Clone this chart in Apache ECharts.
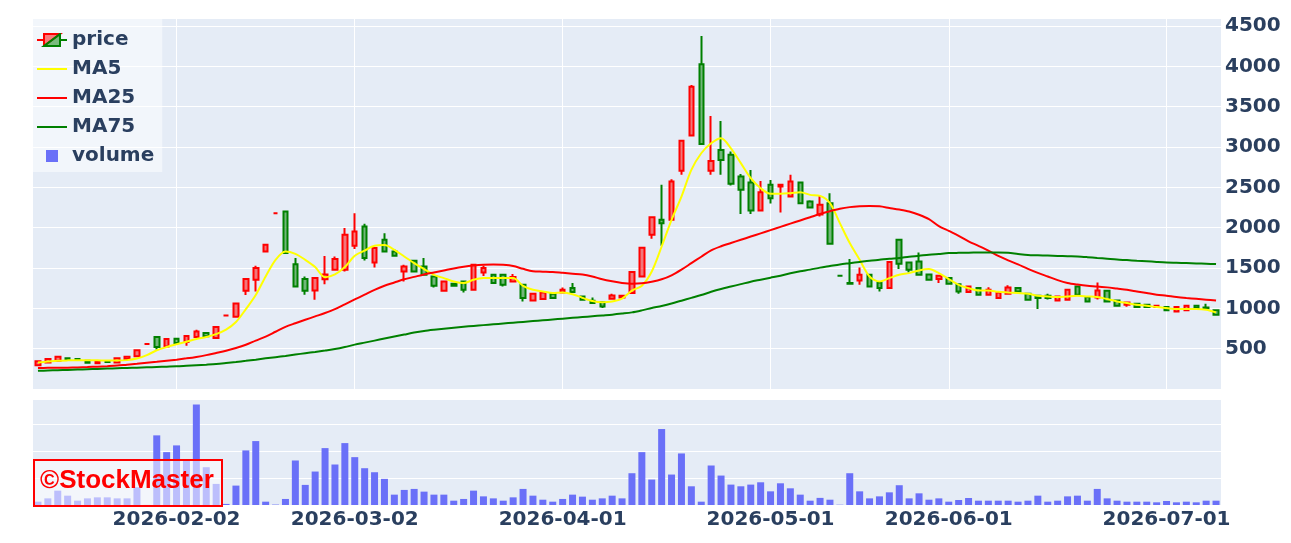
<!DOCTYPE html>
<html>
<head>
<meta charset="utf-8">
<script src="https://cdn.jsdelivr.net/npm/echarts@6/dist/echarts.min.js"></script>
<style>
  html, body { margin: 0; padding: 0; background: #fff; }
  #chart { width: 1291px; height: 543px; }
</style>
</head>
<body>
<div id="chart"></div>
<script>
// trading days (TSE calendar)
var dates = [
  '2026-01-13','2026-01-14','2026-01-15','2026-01-16','2026-01-19','2026-01-20','2026-01-21','2026-01-22','2026-01-23','2026-01-26',
  '2026-01-27','2026-01-28','2026-01-29','2026-01-30','2026-02-02','2026-02-03','2026-02-04','2026-02-05','2026-02-06','2026-02-09',
  '2026-02-10','2026-02-12','2026-02-13','2026-02-16','2026-02-17','2026-02-18','2026-02-19','2026-02-20','2026-02-24','2026-02-25',
  '2026-02-26','2026-02-27','2026-03-02','2026-03-03','2026-03-04','2026-03-05','2026-03-06','2026-03-09','2026-03-10','2026-03-11',
  '2026-03-12','2026-03-13','2026-03-16','2026-03-17','2026-03-18','2026-03-19','2026-03-23','2026-03-24','2026-03-25','2026-03-26',
  '2026-03-27','2026-03-30','2026-03-31','2026-04-01','2026-04-02','2026-04-03','2026-04-06','2026-04-07','2026-04-08','2026-04-09',
  '2026-04-10','2026-04-13','2026-04-14','2026-04-15','2026-04-16','2026-04-17','2026-04-20','2026-04-21','2026-04-22','2026-04-23',
  '2026-04-24','2026-04-27','2026-04-28','2026-04-30','2026-05-01','2026-05-07','2026-05-08','2026-05-11','2026-05-12','2026-05-13',
  '2026-05-14','2026-05-15','2026-05-18','2026-05-19','2026-05-20','2026-05-21','2026-05-22','2026-05-25','2026-05-26','2026-05-27',
  '2026-05-28','2026-05-29','2026-06-01','2026-06-02','2026-06-03','2026-06-04','2026-06-05','2026-06-08','2026-06-09','2026-06-10',
  '2026-06-11','2026-06-12','2026-06-15','2026-06-16','2026-06-17','2026-06-18','2026-06-19','2026-06-22','2026-06-23','2026-06-24',
  '2026-06-25','2026-06-26','2026-06-29','2026-06-30','2026-07-01','2026-07-02','2026-07-03','2026-07-06','2026-07-07','2026-07-08'
];

// dates that get a label / vertical gridline
var tickDates = ['2026-02-02', '2026-03-02', '2026-04-01', '2026-05-01', '2026-06-01', '2026-07-01'];

var open = [
  293, 330, 351, 380, 372, 351, 318, 343, 330, 372, 405, 558, 645, 528, 624, 583, 645, 694, 632, 912,
  896, 1218, 1354, 1705, 2180, 2200, 1546, 1363, 1222, 1360, 1478, 1478, 1776, 2015, 1569, 1850, 1705, 1457, 1590, 1520,
  1395, 1218, 1305, 1333, 1230, 1445, 1416, 1416, 1333, 1292, 1098, 1115, 1181, 1197, 1251, 1148, 1094, 1078, 1119, 1135,
  1190, 1395, 1912, 2097, 2097, 2706, 3142, 4027, 2706, 2964, 2903, 2634, 2560, 2213, 2531, 2510, 2386, 2560, 2324, 2164,
  2304, 1404, 1313, 1346, 1416, 1321, 1251, 1850, 1569, 1582, 1420, 1363, 1375, 1300, 1202, 1251, 1169, 1127, 1181, 1251,
  1181, 1156, 1156, 1098, 1107, 1271, 1140, 1135, 1218, 1098, 1045, 1057, 1045, 1016, 1016, 962, 975, 1033, 1010, 975
];
var close = [
  343, 372, 401, 372, 360, 327, 343, 335, 380, 401, 479, 558, 521, 620, 571, 657, 714, 653, 769, 912,
  1061, 1363, 1499, 1788, 2180, 1685, 1271, 1218, 1375, 1420, 1611, 1912, 1953, 1623, 1747, 1705, 1652, 1520, 1457, 1416,
  1280, 1333, 1280, 1230, 1540, 1499, 1313, 1292, 1388, 1127, 1181, 1197, 1127, 1230, 1202, 1107, 1065, 1024, 1160, 1156,
  1450, 1752, 2130, 2056, 2572, 3078, 3748, 3037, 2828, 2840, 2544, 2470, 2213, 2441, 2366, 2531, 2572, 2304, 2250, 2283,
  1800, 1404, 1305, 1416, 1271, 1251, 1574, 1553, 1478, 1416, 1354, 1404, 1305, 1210, 1271, 1169, 1230, 1197, 1259, 1210,
  1107, 1127, 1127, 1148, 1230, 1169, 1086, 1222, 1086, 1033, 1073, 1016, 1016, 1033, 975, 1016, 1033, 1004, 1000, 921
];
var low = [
  285, 325, 345, 368, 355, 322, 314, 330, 326, 368, 400, 558, 490, 522, 565, 537, 640, 648, 628, 912,
  890, 1165, 1210, 1695, 2180, 1680, 1265, 1169, 1107, 1300, 1470, 1457, 1735, 1594, 1507, 1695, 1640, 1333, 1450, 1405,
  1260, 1210, 1270, 1197, 1225, 1400, 1305, 1270, 1325, 1085, 1090, 1110, 1120, 1190, 1195, 1100, 1060, 1004, 1114, 1130,
  1185, 1390, 1862, 1776, 2090, 2655, 3135, 3030, 2655, 2655, 2523, 2170, 2170, 2205, 2300, 2188, 2380, 2295, 2240, 2138,
  1795, 1404, 1305, 1292, 1265, 1210, 1245, 1487, 1445, 1405, 1348, 1313, 1300, 1181, 1197, 1163, 1164, 1122, 1176, 1205,
  1102, 992, 1110, 1093, 1102, 1163, 1080, 1110, 1080, 1028, 1020, 1010, 1010, 1012, 970, 957, 970, 999, 995, 916
];
var high = [
  350, 378, 405, 384, 376, 355, 346, 347, 384, 405, 484, 558, 650, 626, 630, 662, 735, 700, 775, 912,
  1068, 1370, 1528, 1800, 2180, 2205, 1623, 1395, 1380, 1650, 1643, 1995, 2180, 2048, 1755, 1932, 1730, 1540, 1600, 1623,
  1400, 1340, 1312, 1340, 1545, 1528, 1420, 1430, 1425, 1298, 1186, 1202, 1186, 1260, 1313, 1155, 1135, 1084, 1180, 1162,
  1457, 1760, 2136, 2532, 2600, 3085, 3770, 4376, 3385, 3323, 2945, 2665, 2715, 2580, 2590, 2545, 2655, 2570, 2340, 2395,
  2428, 1404, 1611, 1507, 1420, 1325, 1580, 1855, 1575, 1693, 1425, 1410, 1380, 1305, 1276, 1256, 1262, 1202, 1285, 1256,
  1186, 1160, 1180, 1153, 1236, 1276, 1145, 1321, 1223, 1103, 1078, 1062, 1050, 1038, 1021, 1021, 1038, 1038, 1057, 980
];

var ma5 = [
  330, 340, 350, 355, 358, 357, 355, 352, 352, 358, 378, 420, 480, 520, 555, 585, 620, 645, 680, 735,
  830, 990, 1165, 1395, 1602, 1705, 1676, 1602, 1512, 1385, 1420, 1512, 1652, 1717, 1776, 1784, 1726, 1643, 1561, 1487,
  1416, 1375, 1333, 1313, 1354, 1375, 1375, 1375, 1375, 1280, 1230, 1210, 1190, 1195, 1175, 1130, 1090, 1075, 1085, 1120,
  1220, 1280, 1457, 1767, 2097, 2386, 2717, 2923, 3047, 3109, 2985, 2800, 2614, 2490, 2420, 2420, 2428, 2440, 2407, 2395,
  2304, 2056, 1809, 1602, 1395, 1333, 1375, 1416, 1437, 1470, 1487, 1437, 1363, 1292, 1251, 1222, 1222, 1205, 1197, 1190,
  1181, 1156, 1148, 1140, 1148, 1156, 1148, 1140, 1115, 1086, 1066, 1045, 1033, 1016, 1004, 992, 992, 992, 983, 950
];
var ma25 = [
  261, 262, 263, 265, 268, 272, 277, 283, 290, 302, 313, 325, 337, 350, 364, 380, 398, 420, 447, 475,
  508, 548, 600, 650, 710, 770, 815, 858, 900, 942, 990, 1050, 1110, 1170, 1230, 1280, 1320, 1360, 1390, 1420,
  1445, 1470, 1495, 1515, 1530, 1540, 1545, 1540, 1525, 1490, 1460, 1455, 1450, 1440, 1430, 1420, 1395, 1360, 1335, 1315,
  1305, 1310, 1330, 1360, 1410, 1480, 1560, 1640, 1720, 1770, 1810, 1850, 1890, 1930, 1970, 2010, 2050, 2090, 2130, 2170,
  2205, 2235, 2255, 2265, 2270, 2265, 2245, 2225, 2200, 2160, 2106, 2020, 1960, 1900, 1830, 1775, 1717, 1650, 1595, 1545,
  1490, 1440, 1395, 1350, 1315, 1295, 1280, 1272, 1260, 1245, 1230, 1210, 1190, 1170, 1156, 1140, 1128, 1118, 1108, 1098
];
var ma75 = [
  225, 229, 233, 237, 241, 245, 249, 253, 257, 261, 265, 269, 273, 277, 281, 288, 295, 302, 310, 322,
  335, 349, 364, 380, 395, 410, 427, 444, 460, 477, 495, 520, 550, 575, 600, 625, 650, 675, 700, 720,
  735, 748, 760, 771, 782, 792, 802, 812, 822, 832, 842, 852, 862, 872, 882, 892, 902, 912, 922, 935,
  950, 975, 1004, 1030, 1060, 1095, 1130, 1165, 1205, 1240, 1270, 1300, 1330, 1355, 1380, 1405, 1435, 1460, 1480, 1505,
  1525, 1545, 1560, 1575, 1590, 1602, 1615, 1625, 1640, 1652, 1665, 1675, 1685, 1688, 1690, 1692, 1693, 1693, 1690, 1675,
  1662, 1658, 1654, 1650, 1646, 1643, 1635, 1625, 1615, 1605, 1598, 1590, 1584, 1576, 1569, 1565, 1561, 1557, 1553, 1549
];

// volume (thousand shares)
var volume = [
  124, 247, 535, 348, 161, 247, 285, 285, 247, 247, 659, 5, 2595, 1970, 2221, 1659, 3745, 1408, 786, 40,
  723, 2034, 2382, 124, 15, 225, 1659, 749, 1247, 2120, 1509, 2307, 1783, 1371, 1221, 974, 386, 562, 599, 498,
  386, 386, 161, 225, 535, 322, 247, 161, 285, 599, 348, 198, 124, 225, 386, 311, 198, 247, 348, 247,
  1184, 1970, 948, 2831, 1135, 1921, 697, 124, 1472, 1097, 760, 697, 760, 846, 509, 809, 622, 386, 161, 265,
  198, 10, 1184, 509, 247, 322, 472, 737, 247, 435, 198, 247, 124, 186, 260, 161, 161, 161, 161, 124,
  161, 348, 124, 161, 322, 348, 161, 599, 247, 161, 124, 124, 124, 100, 150, 100, 124, 100, 161, 161
];

// 価格軸の目盛
var priceTicks = { min: 0, max: 4600, interval: 500 };

var textColor = '#2a3f5f';
var labelFont = 'DejaVu Sans';

var svgIcon = function (body) {
  return 'image://data:image/svg+xml;utf8,' + encodeURIComponent(
    '<svg xmlns="http://www.w3.org/2000/svg" width="30" height="14" viewBox="0 0 30 14">' + body + '</svg>'
  );
};
var lineIcon = function (color) {
  return svgIcon('<line x1="0" y1="7" x2="30" y2="7" stroke="' + color + '" stroke-width="2"/>');
};
var priceIcon = svgIcon(
  '<path d="M0,7H7M7,13V1H23Z" fill="rgba(255,0,0,0.5)" stroke="red" stroke-width="2"/>' +
  '<path d="M30,7H23M23,1V13H7Z" fill="rgba(0,128,0,0.5)" stroke="green" stroke-width="2"/>'
);
var volumeIcon = svgIcon('<rect x="9" y="1" width="12" height="12" fill="#6a70f8"/>');

var isTick = function (index, value) {
  return tickDates.indexOf(value) >= 0;
};

var candles = dates.map(function (d, i) {
  return [open[i], close[i], low[i], high[i]];
});

var chart = echarts.init(document.getElementById('chart'), null, { renderer: 'canvas' });

chart.setOption({
  animation: false,
  backgroundColor: '#ffffff',
  textStyle: { fontFamily: labelFont },
  legend: {
    orient: 'vertical',
    left: 33,
    top: 18,
    padding: [12, 8, 6, 4],
    itemGap: 9,
    itemWidth: 30,
    itemHeight: 14,
    backgroundColor: 'rgba(255,255,255,0.5)',
    textStyle: { color: textColor, fontSize: 20, fontWeight: 'bold', fontFamily: labelFont },
    data: [
      { name: 'price', icon: priceIcon },
      { name: 'MA5', icon: lineIcon('#ffff00') },
      { name: 'MA25', icon: lineIcon('#ff0000') },
      { name: 'MA75', icon: lineIcon('#008000') },
      { name: 'volume', icon: volumeIcon }
    ]
  },
  grid: [
    { left: 33, right: 70, top: 18, bottom: 154, show: true, backgroundColor: '#e5ecf6', borderWidth: 0 },
    { left: 33, right: 70, top: 399, bottom: 38, show: true, backgroundColor: '#e5ecf6', borderWidth: 0 }
  ],
  xAxis: [
    {
      type: 'category',
      gridIndex: 0,
      data: dates,
      boundaryGap: true,
      axisLine: { show: false },
      axisTick: { show: false },
      axisLabel: { show: false },
      splitLine: {
        show: true,
        interval: isTick,
        alignWithLabel: true,
        lineStyle: { color: '#ffffff', width: 1 }
      }
    },
    {
      type: 'category',
      gridIndex: 1,
      data: dates,
      boundaryGap: true,
      axisLine: { show: false },
      axisTick: { show: false },
      splitLine: { show: false },
      axisLabel: {
        interval: isTick,
        margin: 5,
        color: textColor,
        fontSize: 20,
        fontWeight: 'bold',
        fontFamily: labelFont
      }
    }
  ],
  yAxis: [
    {
      type: 'value',
      gridIndex: 0,
      position: 'right',
      min: priceTicks.min,
      max: priceTicks.max,
      interval: priceTicks.interval,
      axisLine: { show: false },
      axisTick: { show: false },
      axisLabel: {
        showMinLabel: false,
        showMaxLabel: false,
        margin: 4,
        color: textColor,
        fontSize: 20,
        fontWeight: 'bold',
        fontFamily: labelFont,
        formatter: function (v) { return String(v); }
      },
      splitLine: { lineStyle: { color: '#ffffff', width: 1 } }
    },
    {
      type: 'value',
      gridIndex: 1,
      position: 'right',
      min: 0,
      max: 3950,
      interval: 1000,
      axisLine: { show: false },
      axisTick: { show: false },
      axisLabel: { show: false },
      splitLine: { lineStyle: { color: '#ffffff', width: 1 } }
    }
  ],
  series: [
    {
      name: 'price',
      type: 'candlestick',
      xAxisIndex: 0,
      yAxisIndex: 0,
      data: candles,
      barWidth: 5,
      itemStyle: {
        color: 'rgba(255,0,0,0.5)',
        color0: 'rgba(0,128,0,0.5)',
        borderColor: '#ff0000',
        borderColor0: '#008000',
        borderWidth: 2
      }
    },
    {
      name: 'MA5',
      type: 'line',
      xAxisIndex: 0,
      yAxisIndex: 0,
      data: ma5,
      symbol: 'none',
      smooth: 0.3,
      lineStyle: { color: '#ffff00', width: 2 },
      itemStyle: { color: '#ffff00' }
    },
    {
      name: 'MA25',
      type: 'line',
      xAxisIndex: 0,
      yAxisIndex: 0,
      data: ma25,
      symbol: 'none',
      smooth: 0.3,
      lineStyle: { color: '#ff0000', width: 2 },
      itemStyle: { color: '#ff0000' }
    },
    {
      name: 'MA75',
      type: 'line',
      xAxisIndex: 0,
      yAxisIndex: 0,
      data: ma75,
      symbol: 'none',
      smooth: 0.3,
      lineStyle: { color: '#008000', width: 2 },
      itemStyle: { color: '#008000' }
    },
    {
      name: 'volume',
      type: 'bar',
      xAxisIndex: 1,
      yAxisIndex: 1,
      data: volume,
      barWidth: 7,
      itemStyle: { color: '#6a70f8' }
    }
  ],
  // ウォーターマーク
  graphic: [
    {
      type: 'rect',
      left: 33,
      top: 459,
      z: 100,
      shape: { x: 0, y: 0, width: 188, height: 46 },
      style: { fill: 'rgba(255,255,255,0.55)', stroke: '#ff0000', lineWidth: 2 }
    },
    {
      type: 'text',
      left: 40,
      top: 468,
      z: 101,
      style: {
        text: '\u00a9StockMaster',
        fill: '#ff0000',
        font: 'bold 26px "Liberation Sans", Arial, sans-serif'
      }
    }
  ]
});
</script>
</body>
</html>
